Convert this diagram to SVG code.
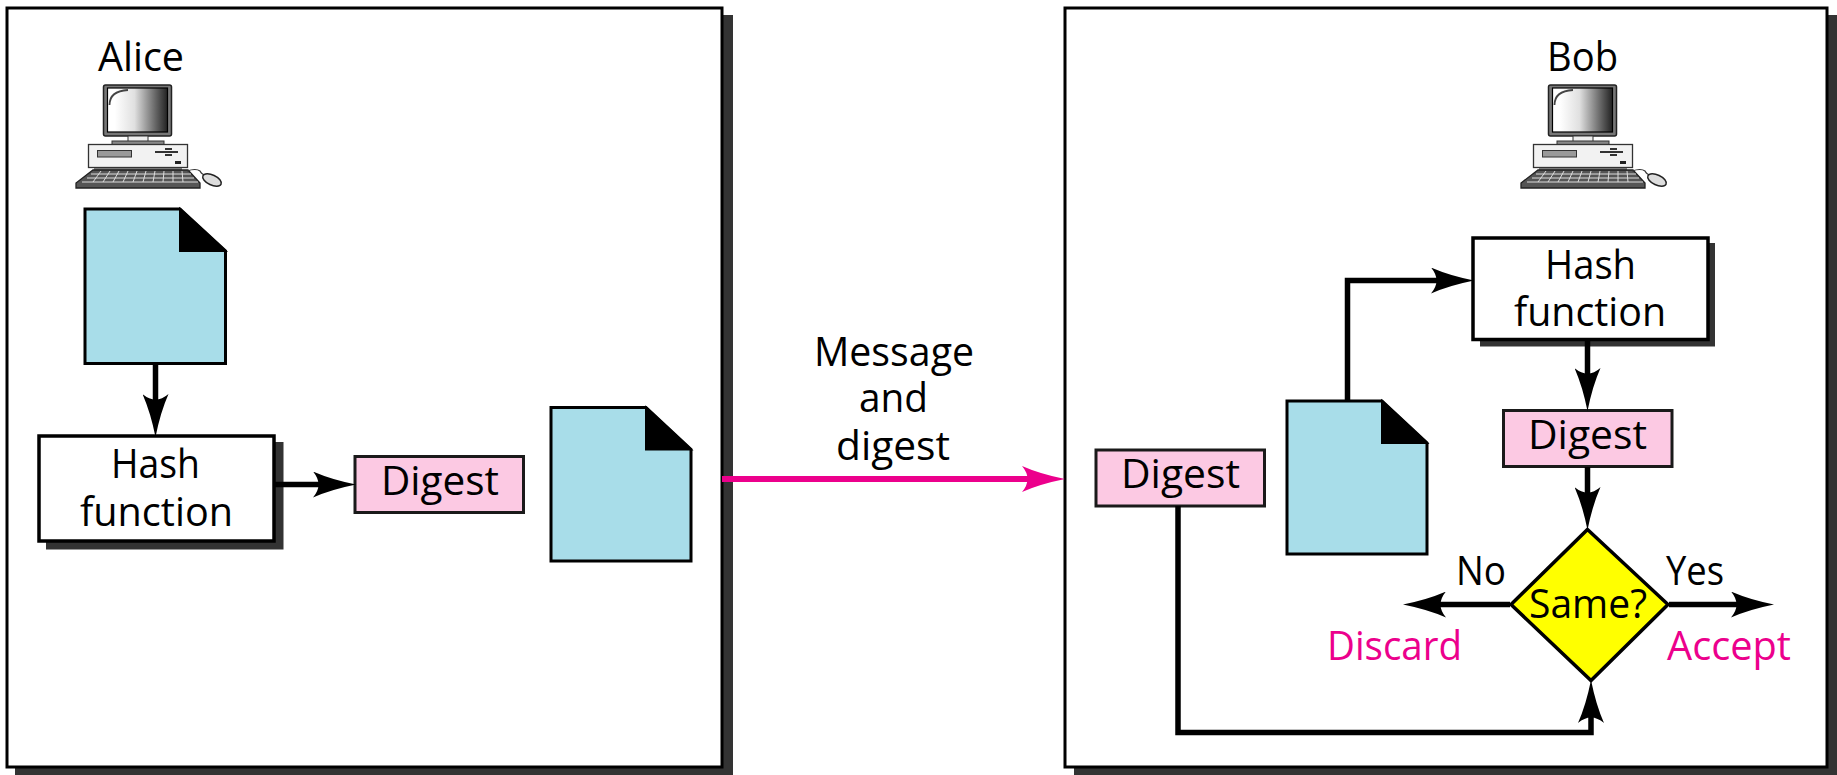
<svg xmlns="http://www.w3.org/2000/svg" width="1837" height="775" viewBox="0 0 1837 775">
<style>
text{font-family:"Open Sans","Noto Sans","Liberation Sans",sans-serif;fill:#000;font-size:40px}
.pink{fill:#ec008c}
.panel{fill:#fff;stroke:#000;stroke-width:3}
.shadow{fill:#333}
.box{fill:#fff;stroke:#000;stroke-width:3.500}
.dig{fill:#fcc9e3;stroke:#1a1a1a;stroke-width:3}
.doc{fill:#a8dde9;stroke:#000;stroke-width:3}
.wire{fill:none;stroke:#000;stroke-width:5.500}
</style>
<defs>
<marker id="ah" markerUnits="userSpaceOnUse" markerWidth="44" markerHeight="26" refX="14" refY="13" orient="auto" viewBox="0 0 44 26"><path d="M0,0 Q18,8 43,13 Q18,18 0,26 Q11,13 0,0Z" fill="#000"/></marker>
<marker id="ap" markerUnits="userSpaceOnUse" markerWidth="44" markerHeight="26" refX="14" refY="13" orient="auto" viewBox="0 0 44 26"><path d="M0,0 Q18,8 43,13 Q18,18 0,26 Q11,13 0,0Z" fill="#ec008c"/></marker>
<linearGradient id="scr" x1="0" x2="1" y1="0" y2="0"><stop offset="0.12" stop-color="#fff"/><stop offset="0.45" stop-color="#e0e0e0"/><stop offset="0.8" stop-color="#666"/><stop offset="1" stop-color="#222"/></linearGradient>
<g id="pc">
<rect x="103.500" y="85" width="68" height="51" rx="2" fill="#777" stroke="#222" stroke-width="1.500"/>
<rect x="107.500" y="88" width="60" height="44" fill="url(#scr)" stroke="#000" stroke-width="1.200"/>
<path d="M109.500,105 Q109.500,91 128,90" fill="none" stroke="#444" stroke-width="1.800"/>
<rect x="128" y="136" width="20" height="6" fill="#eee" stroke="#333"/>
<rect x="112" y="141" width="52" height="4" fill="#888" stroke="#333"/>
<rect x="88.500" y="144.500" width="99" height="23" fill="#f2f2f2" stroke="#333" stroke-width="1.300"/>
<rect x="97.500" y="150.500" width="34" height="6.500" fill="#999" stroke="#333"/>
<path d="M155,152 H178 M165,149 H172 M165,155 H172" stroke="#333" stroke-width="2" fill="none"/>
<rect x="175" y="161" width="6" height="3" fill="#222"/>
<rect x="94" y="168" width="88" height="3" fill="#777"/>
<path d="M93,170 H188 L200,183 V188 H76 V183Z" fill="#555" stroke="#222" stroke-width="1.300"/>
<path d="M91,174 H191 M87,178 H194 M82,182 H198" stroke="#ddd" stroke-width="1" fill="none"/>
<path d="M101,171 L93,182 M110,171 L103,182 M119,171 L113,182 M128,171 L123,182 M137,171 L133,182 M146,171 L143,182 M155,171 L153,182 M164,171 L163,182 M173,171 L173,182 M182,171 L183,182" stroke="#ddd" stroke-width="1" fill="none"/>
<path d="M187,171 Q196,168 200,171 Q202,175 206,175" fill="none" stroke="#333" stroke-width="1.200"/>
<ellipse cx="212" cy="180" rx="10" ry="5" transform="rotate(25 212 180)" fill="#ddd" stroke="#222" stroke-width="1.500"/>
</g>
</defs>

<g id="alice-panel"><path class="shadow" d="M15,15 H733 V775 H15Z"/><rect class="panel" x="7" y="8" width="715" height="759"/></g>
<g id="bob-panel"><path class="shadow" d="M1074,15 H1837 V775 H1074Z"/><rect class="panel" x="1065" y="8" width="762" height="759"/></g>

<g id="alice"><use href="#pc"/><text x="98" y="71" textLength="86" lengthAdjust="spacingAndGlyphs">Alice</text></g>
<g id="bob"><use href="#pc" x="1445"/><text x="1547" y="71" textLength="71" lengthAdjust="spacingAndGlyphs">Bob</text></g>

<g id="doc-alice-1"><path class="doc" d="M85,209 H180 L225.500,251 V363.500 H85Z"/><path d="M180,209 L225.500,251 H180Z" fill="#000" stroke="#000" stroke-width="2"/></g>
<g id="hash-alice"><rect class="shadow" x="46" y="442" width="237.500" height="107.500"/><rect class="box" x="39" y="436" width="235" height="105"/>
<text x="111" y="478" textLength="89" lengthAdjust="spacingAndGlyphs">Hash</text>
<text x="80" y="526" textLength="153" lengthAdjust="spacingAndGlyphs">function</text></g>
<g id="digest-alice"><rect class="dig" x="355" y="456.500" width="168.500" height="56"/><text x="381" y="495" textLength="118" lengthAdjust="spacingAndGlyphs">Digest</text></g>
<g id="doc-alice-2"><path class="doc" d="M551,407.500 H646 L691,449.500 V561 H551Z"/><path d="M646,407.500 L691,449.500 H646Z" fill="#000" stroke="#000" stroke-width="2"/></g>

<g id="message-label"><text x="814" y="365.500" textLength="160" lengthAdjust="spacingAndGlyphs">Message</text><text x="859" y="412" textLength="69" lengthAdjust="spacingAndGlyphs">and</text><text x="836" y="459.500" textLength="114" lengthAdjust="spacingAndGlyphs">digest</text></g>

<g id="hash-bob"><rect class="shadow" x="1480" y="243" width="235" height="103.500"/><rect class="box" x="1473" y="238" width="235" height="101.500"/>
<text x="1545" y="279" textLength="91" lengthAdjust="spacingAndGlyphs">Hash</text>
<text x="1514" y="325.500" textLength="152" lengthAdjust="spacingAndGlyphs">function</text></g>
<g id="digest-bob-1"><rect class="dig" x="1503.500" y="410.500" width="168.500" height="56"/><text x="1528" y="449" textLength="119" lengthAdjust="spacingAndGlyphs">Digest</text></g>
<g id="digest-bob-2"><rect class="dig" x="1096" y="450" width="168.500" height="56"/><text x="1121" y="488" textLength="119" lengthAdjust="spacingAndGlyphs">Digest</text></g>
<g id="doc-bob"><path class="doc" d="M1287,401 H1382 L1427,443 V554 H1287Z"/><path d="M1382,401 L1427,443 H1382Z" fill="#000" stroke="#000" stroke-width="2"/></g>
<g id="same"><path d="M1587.500,529.500 L1668,604.500 L1591,680.500 L1511,604.500Z" fill="#ff0" stroke="#000" stroke-width="3.500"/><text x="1529" y="617.500" textLength="118" lengthAdjust="spacingAndGlyphs">Same?</text></g>
<g id="no-label"><text x="1456" y="585" textLength="50" lengthAdjust="spacingAndGlyphs">No</text></g>
<g id="yes-label"><text x="1666" y="585" textLength="58" lengthAdjust="spacingAndGlyphs">Yes</text></g>
<g id="discard"><text class="pink" x="1327" y="660" textLength="135" lengthAdjust="spacingAndGlyphs">Discard</text></g>
<g id="accept"><text class="pink" x="1667" y="660" textLength="124" lengthAdjust="spacingAndGlyphs">Accept</text></g>

<g id="connectors">
<path class="wire" d="M155.500,363 V408" marker-end="url(#ah)"/>
<path class="wire" d="M275,484.500 H327" marker-end="url(#ah)"/>
<path d="M722,479 H1036" fill="none" stroke="#ec008c" stroke-width="6" marker-end="url(#ap)"/>
<path class="wire" d="M1347.500,401 V280.500 H1445" marker-end="url(#ah)"/>
<path class="wire" d="M1587.500,340 V382" marker-end="url(#ah)"/>
<path class="wire" d="M1587.500,467 V501" marker-end="url(#ah)"/>
<path class="wire" d="M1510,604.500 H1432" marker-end="url(#ah)"/>
<path class="wire" d="M1669,604.500 H1745" marker-end="url(#ah)"/>
<path class="wire" d="M1178,506 V732.500 H1591 V709" marker-end="url(#ah)"/>
</g>
</svg>
